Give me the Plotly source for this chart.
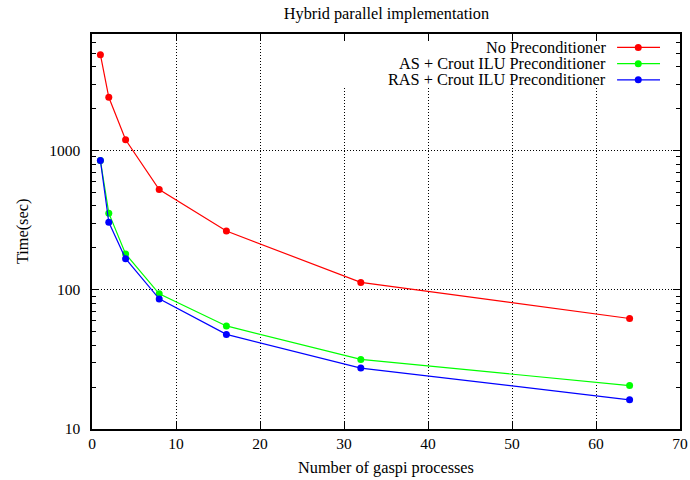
import numpy as np
import plotly.graph_objects as go

# values
processes = [1, 2, 4, 8, 16, 32, 64]
no_precond = [4880, 2410, 1195, 524, 264, 113, 62.2]
as_crout = [848, 355, 181, 93.5, 55, 31.6, 20.5]
ras_crout = [848, 305, 167, 86, 47.8, 27.4, 16.2]

series_names = ["No Preconditioner", "AS + Crout ILU Preconditioner", "RAS + Crout ILU Preconditioner"]
series_colors = ["#ff0000", "#00ff00", "#0000ff"]

y_major = [10, 100, 1000]
y_minor = [m * d for d in [10, 100, 1000] for m in range(2, 10) if m * d < 6870]

font_family = "Liberation Serif, Times New Roman, serif"
text_size = 16.3

fig = go.Figure()

for name, values, colour in zip(series_names, [no_precond, as_crout, ras_crout], series_colors):
    fig.add_trace(go.Scatter(x=processes, y=values, name=name, mode="lines+markers",
                             line=dict(color=colour, width=1.2),
                             marker=dict(color=colour, size=7),
                             showlegend=False))

# gnuplot-like key: text right aligned, sample on the right
shapes = [dict(type="rect", xref="paper", yref="paper", x0=0.413, x1=0.988, y0=0.863, y1=0.981,
               fillcolor="white", line=dict(width=0), layer="above")]
annotations = []
key_rows = [0.966, 0.925, 0.884]
for name, colour, ky in zip(series_names, series_colors, key_rows):
    annotations.append(dict(text=name, xref="paper", yref="paper", x=0.877, y=ky,
                            xanchor="right", yanchor="middle", showarrow=False,
                            font=dict(size=text_size, color="black", family=font_family)))
    shapes.append(dict(type="line", xref="paper", yref="paper", x0=0.893, x1=0.966, y0=ky, y1=ky,
                       line=dict(color=colour, width=1.2), layer="above"))
    shapes.append(dict(type="circle", xref="paper", yref="paper", xsizemode="pixel", ysizemode="pixel",
                       xanchor=0.929, yanchor=ky, x0=-3.5, x1=3.5, y0=-3.5, y1=3.5,
                       fillcolor=colour, line=dict(width=0), layer="above"))

# y axis title placed like gnuplot does
annotations.append(dict(text="Time(sec)", xref="paper", yref="paper", x=-0.118, y=0.5,
                        textangle=-90, xanchor="center", yanchor="middle", showarrow=False,
                        font=dict(size=text_size, color="black", family=font_family)))

fig.update_layout(
    width=690, height=480,
    margin=dict(l=92, r=10, t=34, b=51),
    paper_bgcolor="white", plot_bgcolor="white",
    font=dict(family=font_family, size=15, color="black"),
    title=dict(text="Hybrid parallel implementation", x=0.56, xanchor="center", y=0.972, yanchor="middle",
               font=dict(size=text_size)),
    shapes=shapes, annotations=annotations,
)

grid_dash = "1px,2px"

fig.update_xaxes(range=[0, 70], dtick=10, showline=True, linecolor="black", linewidth=1.5, mirror="allticks",
                 ticks="inside", ticklen=7, tickcolor="black", showgrid=True, gridcolor="black",
                 griddash=grid_dash, gridwidth=1, zeroline=False, automargin=False,
                 tickfont=dict(size=15.5),
                 title=dict(text="Number of gaspi processes", standoff=10, font=dict(size=text_size)))

fig.update_yaxes(type="log", range=[1, np.log10(6870)], tickvals=y_major, ticktext=["10", "100", "1000"],
                 showline=True, linecolor="black", linewidth=1.5, mirror="allticks", ticks="inside",
                 ticklen=7, tickcolor="black", ticklabelstandoff=7, tickfont=dict(size=15.5),
                 showgrid=True, gridcolor="black", griddash=grid_dash, gridwidth=1, zeroline=False,
                 automargin=False,
                 minor=dict(tickmode="array", tickvals=y_minor, ticks="inside", ticklen=4,
                            tickcolor="black", showgrid=False))

# drop the default page margin so the figure sits at the window corner
fig.write_html("out.html", config={"displayModeBar": False},
               post_script="document.body.style.margin='0';")
